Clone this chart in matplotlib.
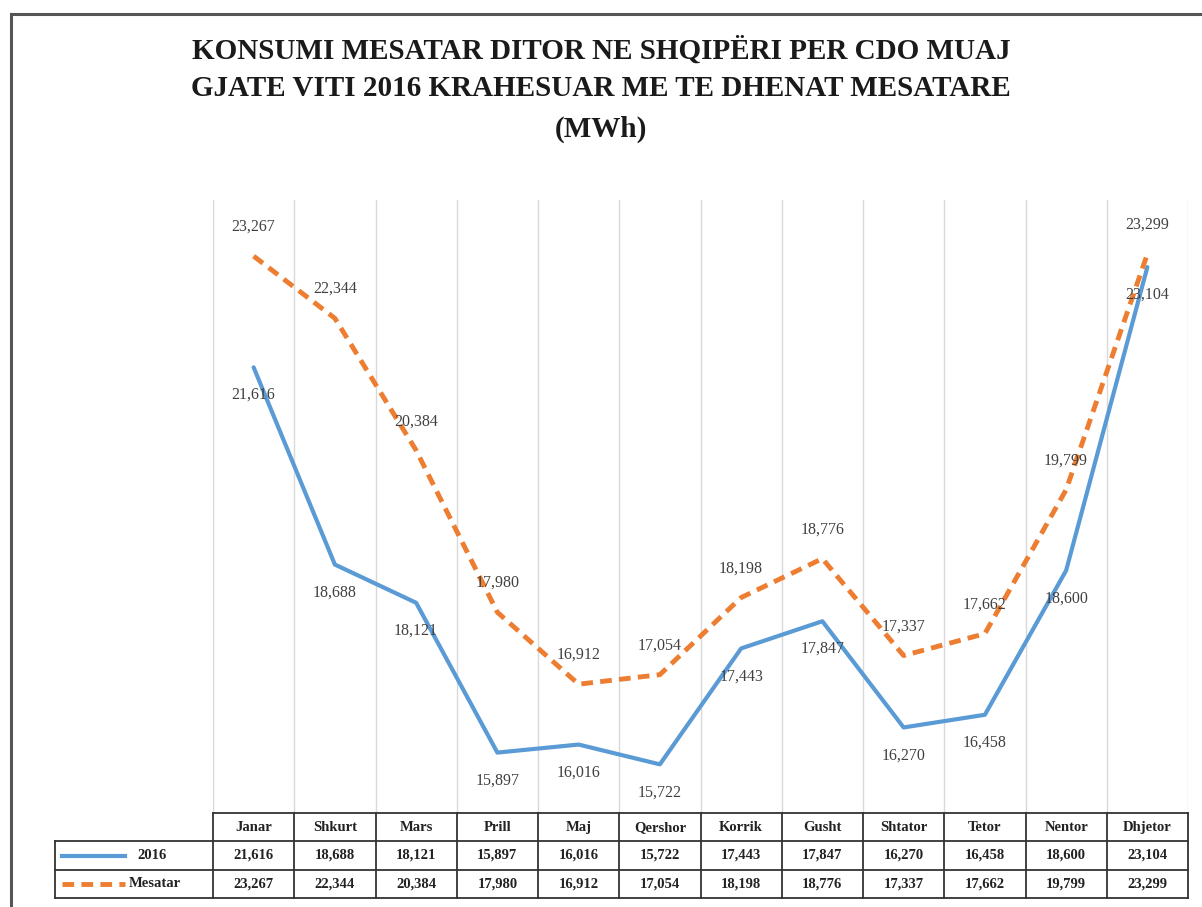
import numpy as np
import matplotlib.pyplot as plt
from matplotlib.lines import Line2D

# te dhenat
muajt = ['Janar', 'Shkurt', 'Mars', 'Prill', 'Maj', 'Qershor', 'Korrik',
         'Gusht', 'Shtator', 'Tetor', 'Nentor', 'Dhjetor']
v2016 = [21616, 18688, 18121, 15897, 16016, 15722, 17443, 17847, 16270, 16458, 18600, 23104]
mesatar = [23267, 22344, 20384, 17980, 16912, 17054, 18198, 18776, 17337, 17662, 19799, 23299]
seri_emra = ['2016', 'Mesatar']

plt.rcParams['font.family'] = ['Liberation Serif', 'DejaVu Serif']
blu = '#5B9BD5'
portok = '#ED7D31'
tekst = '#404040'

W, H = 1202, 907
fig = plt.figure(figsize=(W / 100, H / 100), dpi=100)

def fx(px):
    return px / W

def fy(py):
    return 1 - py / H

# korniza
fig.add_artist(Line2D([fx(11), fx(11)], [fy(14), 0], color='#555555', lw=2.2))
fig.add_artist(Line2D([fx(11), 1], [fy(14), fy(14)], color='#555555', lw=2.2))

titulli = ['KONSUMI MESATAR DITOR NE SHQIPËRI PER CDO MUAJ',
           'GJATE VITI 2016 KRAHESUAR ME TE DHENAT MESATARE',
           '(MWh)']
for t, yy in zip(titulli, [51, 89, 129]):
    fig.text(0.5, fy(yy), t, ha='center', va='center', fontsize=21,
             fontweight='bold', color='#1a1a1a')

x0, x1 = 213, 1188
ytop, ybot = 200, 813
ax = fig.add_axes([fx(x0), fy(ybot), fx(x1) - fx(x0), fy(ytop) - fy(ybot)])
x = np.arange(len(muajt))
ax.set_xlim(-0.5, 11.5)
ax.set_ylim(15000, 24100)
for b in np.arange(-0.5, 12.0, 1):
    ax.axvline(b, color='#d9d9d9', lw=1, zorder=0)
ax.plot(x, v2016, color=blu, lw=3, solid_capstyle='round', zorder=3)
ax.plot(x, mesatar, color=portok, lw=3.5, ls=(0, (2.4, 1.5)), zorder=3)
for i in range(len(muajt)):
    ax.annotate(f'{v2016[i]:,}', (x[i], v2016[i]), xytext=(0, -20),
                textcoords='offset points', ha='center', va='center',
                fontsize=11.5, color=tekst, zorder=4)
    ax.annotate(f'{mesatar[i]:,}', (x[i], mesatar[i]), xytext=(0, 21),
                textcoords='offset points', ha='center', va='center',
                fontsize=11.5, color=tekst, zorder=4)
ax.axis('off')

# tabela
ty0, ty3 = 813, 898
tax = fig.add_axes([fx(x0), fy(ty3), fx(x1) - fx(x0), fy(ty0) - fy(ty3)])
tax.set_xlim(-0.5, 11.5)
tax.set_ylim(3, 0)
tax.axis('off')
colw = (x1 - x0) / 12
left = -0.5 - (x0 - 55) / colw
lc = '#333333'
tax.plot([-0.5, 11.5], [0, 0], color=lc, lw=1.3, clip_on=False)
for r in [1, 2, 3]:
    tax.plot([left, 11.5], [r, r], color=lc, lw=1.3, clip_on=False)
for b in np.arange(-0.5, 12.0, 1):
    tax.plot([b, b], [0, 3], color=lc, lw=1.3, clip_on=False)
tax.plot([left, left], [1, 3], color=lc, lw=1.3, clip_on=False)

fs = 10.5
for i, m in enumerate(muajt):
    tax.text(i, 0.5, m, ha='center', va='center', fontsize=fs, fontweight='bold', color='#222222')
    tax.text(i, 1.5, f'{v2016[i]:,}', ha='center', va='center', fontsize=fs, fontweight='bold', color='#222222')
    tax.text(i, 2.5, f'{mesatar[i]:,}', ha='center', va='center', fontsize=fs, fontweight='bold', color='#222222')

lx0 = left + 0.08
lx1 = left + 0.86
tax.plot([lx0, lx1], [1.5, 1.5], color=blu, lw=3, clip_on=False)
tax.plot([lx0, lx1], [2.5, 2.5], color=portok, lw=3.5, ls=(0, (2.4, 1.5)), clip_on=False)
tax.text(lx1 + 0.15, 1.5, seri_emra[0], ha='left', va='center', fontsize=fs, fontweight='bold', color='#222222')
tax.text(lx1 + 0.05, 2.5, seri_emra[1], ha='left', va='center', fontsize=fs, fontweight='bold', color='#222222')

fig.savefig('out.png', dpi=100, facecolor='white')
